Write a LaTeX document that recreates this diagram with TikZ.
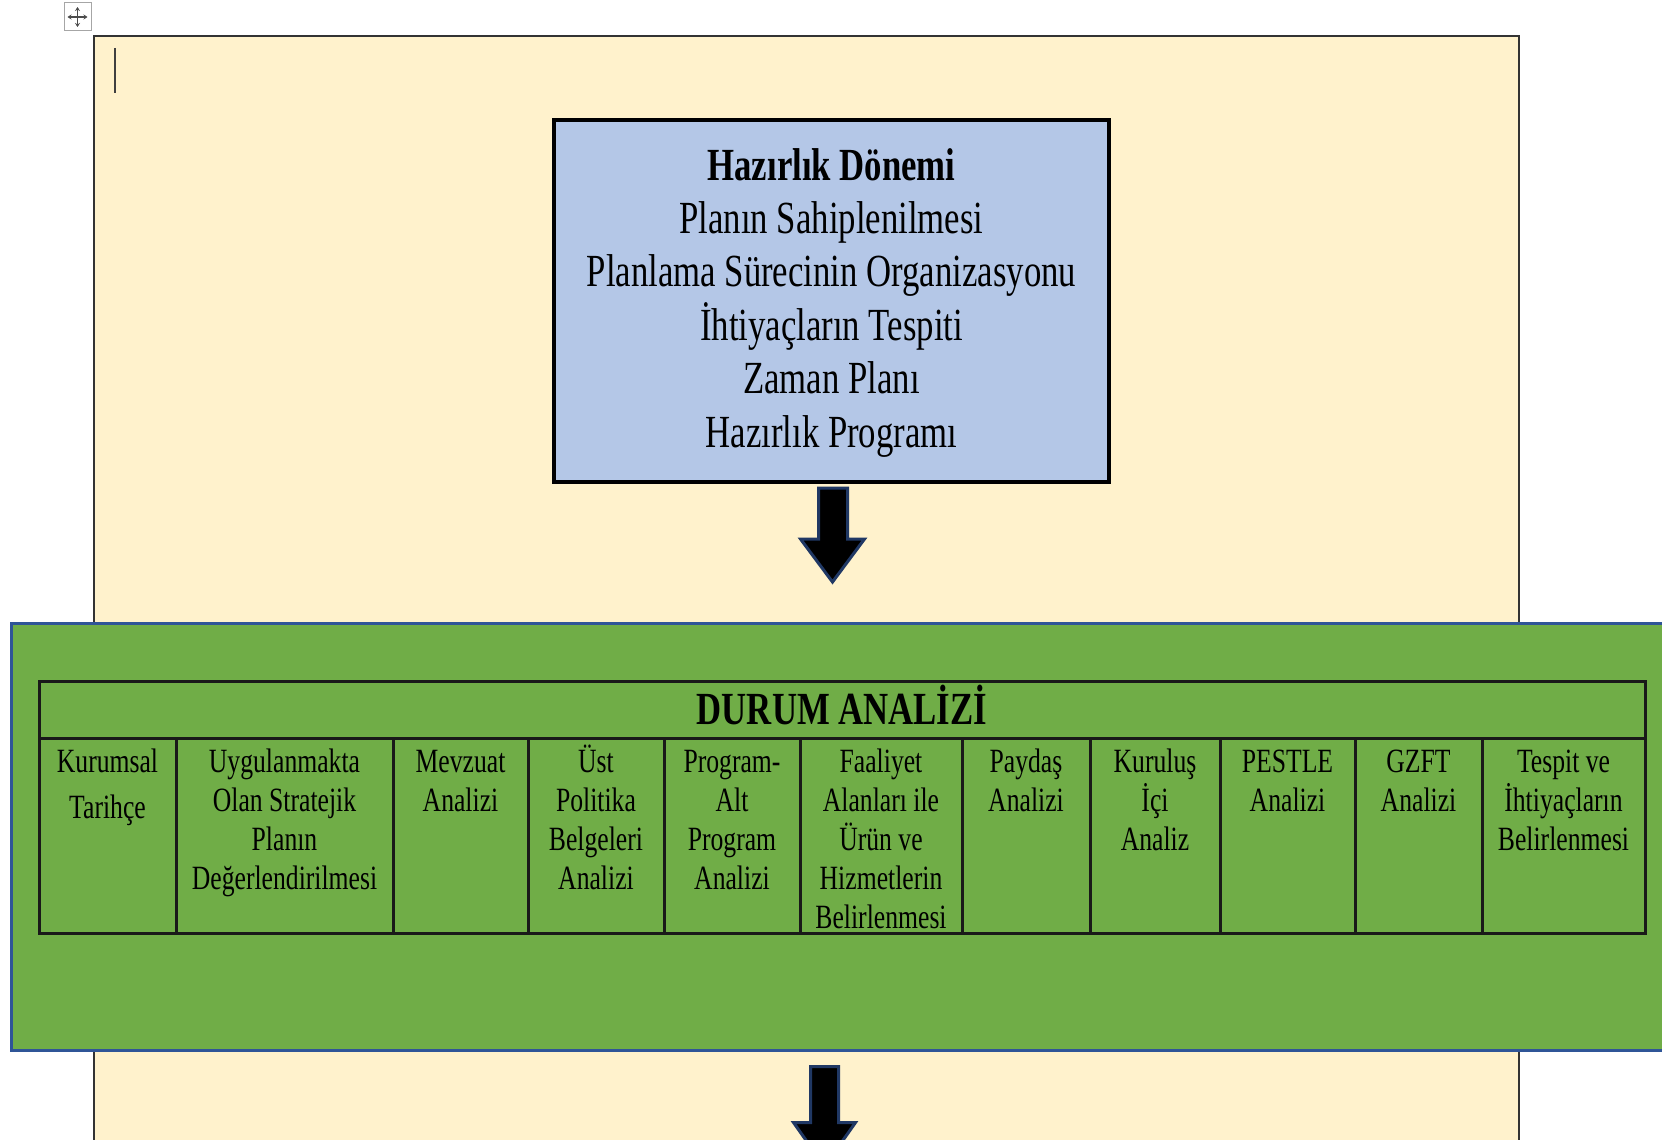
\documentclass[tikz,border=0pt]{standalone}
\usepackage{fontspec}
\setmainfont{Liberation Serif}[FakeStretch=0.755]
\usetikzlibrary{calc,arrows.meta}
\definecolor{pagebg}{HTML}{FFF2CC}
\definecolor{boxblue}{HTML}{B4C7E7}
\definecolor{dagreen}{HTML}{70AD47}
\definecolor{edgeblue}{HTML}{2F5597}
\definecolor{arrowedge}{HTML}{203864}
\newcommand{\cellt}[1]{\begin{tabular}[t]{@{}c@{}}#1\end{tabular}}
\tikzset{
  blockarrow/.style={fill=black, draw=arrowedge, line width=3pt, line join=miter},
  celltext/.style={anchor=base, inner sep=0pt, font=\fontsize{34}{39}\selectfont},
  gridline/.style={draw=black!90, line width=3pt},
}
\begin{document}
\begin{tikzpicture}[x=1pt,y=-1pt]
\useasboundingbox (0,0) rectangle (1662,1140);
\clip (0,0) rectangle (1662,1140);
\fill[white] (0,0) rectangle (1662,1140);
% page
\draw[fill=pagebg, draw=black!80, line width=2pt] (94,36) rectangle (1519,1220);
% move handle
\node[draw=black!35, fill=white, line width=1pt, minimum width=27pt, minimum height=28pt, inner sep=0pt] (handle) at (77.5,17) {};
\draw[-{Stealth[length=4pt,width=5pt]}, black!70, line width=1.2pt] (handle.center) -- ++(0,-10);
\draw[-{Stealth[length=4pt,width=5pt]}, black!70, line width=1.2pt] (handle.center) -- ++(0,10);
\draw[-{Stealth[length=4pt,width=5pt]}, black!70, line width=1.2pt] (handle.center) -- ++(-10,0);
\draw[-{Stealth[length=4pt,width=5pt]}, black!70, line width=1.2pt] (handle.center) -- ++(10,0);
% cursor
\draw[line width=2pt, black!75] (115,48) -- (115,93);
% blue box
\node[draw=black, line width=4pt, fill=boxblue, minimum width=555pt, minimum height=362pt, inner sep=0pt] (hz) at (831.5,301) {};
\node[anchor=base, inner sep=0pt, font=\fontsize{46}{53.3}\selectfont] (hzt) at (831.5,180)
  {\cellt{\textbf{Hazırlık Dönemi}\\Planın Sahiplenilmesi\\Planlama Sürecinin Organizasyonu\\İhtiyaçların Tespiti\\Zaman Planı\\Hazırlık Programı}};
% green band
\node[draw=edgeblue, line width=3pt, fill=dagreen, minimum width=1689pt, minimum height=427pt, inner sep=0pt] (da) at (855.5,836.5) {};
% arrow 1
\coordinate (a1) at ($(hz.south)+(1,4)$);
\draw[blockarrow] ($(a1)+(-14,0)$) -- ($(a1)+(15,0)$) -- ($(a1)+(15,51)$) -- ($(a1)+(32,51)$) -- ($(a1)+(0,94)$) -- ($(a1)+(-32,51)$) -- ($(a1)+(-14,51)$) -- cycle;
% arrow 2
\coordinate (a2) at ($(da.south)+(-31,15)$);
\draw[blockarrow] ($(a2)+(-14,0)$) -- ($(a2)+(14,0)$) -- ($(a2)+(14,56)$) -- ($(a2)+(31,56)$) -- ($(a2)+(0,100)$) -- ($(a2)+(-31,56)$) -- ($(a2)+(-14,56)$) -- cycle;
% table
\draw[gridline] (39,681) rectangle (1645,933);
\draw[gridline] (39,738) -- (1645,738);
\foreach \xx in {176,393,528,664,800,962,1090,1220,1355,1482}
  \draw[gridline] (\xx,738) -- (\xx,933);
\node[anchor=base, inner sep=0pt, font=\fontsize{46}{50}\selectfont\bfseries] (title) at (842,724) {DURUM ANALİZİ};
\node[celltext, font=\fontsize{34}{46}\selectfont] (c1) at (107.5,772) {\cellt{Kurumsal\\Tarihçe}};
\node[celltext] (c2) at (284.5,772) {\cellt{Uygulanmakta\\Olan Stratejik\\Planın\\Değerlendirilmesi}};
\node[celltext] (c3) at (460.5,772) {\cellt{Mevzuat\\Analizi}};
\node[celltext] (c4) at (596,772) {\cellt{Üst\\Politika\\Belgeleri\\Analizi}};
\node[celltext] (c5) at (732,772) {\cellt{Program-\\Alt\\Program\\Analizi}};
\node[celltext] (c6) at (881,772) {\cellt{Faaliyet\\Alanları ile\\Ürün ve\\Hizmetlerin\\Belirlenmesi}};
\node[celltext] (c7) at (1026,772) {\cellt{Paydaş\\Analizi}};
\node[celltext] (c8) at (1155,772) {\cellt{Kuruluş\\İçi\\Analiz}};
\node[celltext] (c9) at (1287.5,772) {\cellt{PESTLE\\Analizi}};
\node[celltext] (c10) at (1418.5,772) {\cellt{GZFT\\Analizi}};
\node[celltext] (c11) at (1563.5,772) {\cellt{Tespit ve\\İhtiyaçların\\Belirlenmesi}};
\end{tikzpicture}
\end{document}
